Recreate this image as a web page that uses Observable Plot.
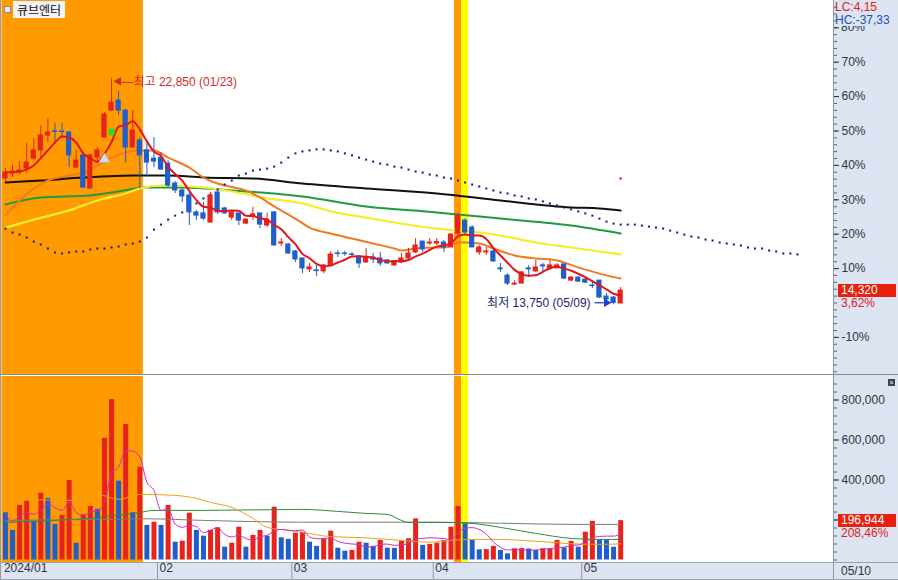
<!DOCTYPE html>
<html lang="ko"><head><meta charset="utf-8">
<script src="https://cdn.jsdelivr.net/npm/d3@7"></script>
<script src="https://cdn.jsdelivr.net/npm/@observablehq/plot@0.6"></script>
<style>
html,body{margin:0;padding:0;background:#fff;overflow:hidden;}
#wrap{position:relative;width:898px;height:580px;overflow:hidden;background:#fff;font-family:"Liberation Sans","Noto Sans CJK KR",sans-serif;font-size:12px;}
.a{position:absolute;white-space:nowrap;}
</style></head><body><div id="wrap"></div>
<script>
// ---------------- data ----------------
const stockName = "큐브엔터";
const dates = ["2024-01-02","2024-01-03","2024-01-04","2024-01-05","2024-01-08","2024-01-09","2024-01-10","2024-01-11","2024-01-12","2024-01-15","2024-01-16","2024-01-17","2024-01-18","2024-01-19","2024-01-22","2024-01-23","2024-01-24","2024-01-25","2024-01-26","2024-01-29","2024-01-30","2024-01-31",
"2024-02-01","2024-02-02","2024-02-05","2024-02-06","2024-02-07","2024-02-08","2024-02-13","2024-02-14","2024-02-15","2024-02-16","2024-02-19","2024-02-20","2024-02-21","2024-02-22","2024-02-23","2024-02-26","2024-02-27","2024-02-28","2024-02-29",
"2024-03-04","2024-03-05","2024-03-06","2024-03-07","2024-03-08","2024-03-11","2024-03-12","2024-03-13","2024-03-14","2024-03-15","2024-03-18","2024-03-19","2024-03-20","2024-03-21","2024-03-22","2024-03-25","2024-03-26","2024-03-27","2024-03-28","2024-03-29",
"2024-04-01","2024-04-02","2024-04-03","2024-04-04","2024-04-05","2024-04-08","2024-04-09","2024-04-11","2024-04-12","2024-04-15","2024-04-16","2024-04-17","2024-04-18","2024-04-19","2024-04-22","2024-04-23","2024-04-24","2024-04-25","2024-04-26","2024-04-29","2024-04-30",
"2024-05-02","2024-05-03","2024-05-07","2024-05-08","2024-05-09","2024-05-10"];
const open = [18820,19020,19060,19220,19620,19950,20550,20710,20710,20670,
19260,19750,18420,19660,20470,21550,21950,21550,20070,20350,
19950,19620,19660,19420,18620,18340,18140,17460,17420,17050,
18260,17620,17250,17420,17010,17290,17420,16930,17460,16210,
16170,15890,15610,15170,15130,15090,15290,15810,15810,15770,
15690,15450,15650,15610,15530,15330,15450,15610,15850,16290,
16210,16210,16250,16050,16610,17130,16850,15850,15850,15890,
15210,14920,14560,14600,15210,15090,15330,15210,15210,15370,
14720,14840,14760,14520,14720,14080,14040,13800];
const high = [19220,19340,19500,20230,20430,20950,21230,21030,21030,20710,
19950,19870,19790,20070,21470,22850,22320,21590,21550,20470,
20350,20470,19870,19540,18700,18420,18260,17540,17860,18260,
18340,17660,17540,17420,17210,17660,17420,17420,17500,16410,
16210,15930,15610,15410,15330,15370,15890,15930,15890,15850,
15690,16010,15810,15850,15570,15530,15810,16010,16410,16290,
16410,16410,16330,16610,17420,17210,16930,16130,16050,16050,
15410,15000,14720,15090,15330,15530,15410,15530,15410,15370,
14880,14880,14800,14720,14720,14200,14080,14440];
const low = [18700,18860,18980,19020,19540,19660,20270,20270,20430,19260,
19220,18420,18400,19420,20450,21510,21350,19460,20030,18420,
18860,19260,19140,18460,18220,17860,16930,17130,17130,17050,
17380,17380,17130,16930,16970,17130,16810,16850,16130,16090,
15770,15450,15000,15050,14880,15000,15290,15650,15690,15650,
15210,15410,15410,15290,15370,15290,15410,15570,15810,15850,
16130,16130,15850,16050,16530,16530,16050,15730,15730,15450,
15050,14520,14520,14600,14840,15050,15050,15130,15210,14760,
14680,14640,14600,14400,14000,13880,13750,13800];
const close = [19060,19100,19140,19460,19950,20550,20670,20690,20690,19750,
19540,18460,19750,19950,21390,21870,21550,20070,20750,19750,
19460,19500,19180,18540,18340,18100,17460,17330,17210,18140,
17460,17420,17460,17130,17170,17380,16970,17170,16130,16250,
15810,15570,15210,15250,15100,15330,15770,15790,15790,15750,
15410,15650,15570,15410,15410,15490,15610,15810,16130,15970,
16250,16270,16050,16570,17330,16650,16050,16050,15890,15490,
15170,14600,14600,15050,15170,15250,15290,15330,15330,14800,
14840,14680,14640,14500,14040,13960,13820,14320];
const volume = [236000,148000,273000,293000,194000,334000,308000,178000,223000,398000,
84000,226000,268000,253000,609000,803000,394000,678000,236000,464000,
173000,189000,173000,273000,89000,94000,234000,148000,119000,148000,
161000,64000,84000,164000,64000,123000,148000,119000,264000,111000,
103000,134000,139000,89000,68000,106000,144000,59000,44000,48000,
89000,84000,68000,98000,59000,58000,94000,106000,206000,73000,
78000,84000,98000,164000,268000,181000,98000,51000,52000,68000,
48000,31000,56000,57000,55000,48000,56000,57000,98000,61000,
93000,64000,139000,193000,101000,100000,63848,196944];
// moving-average lines: [candle index, value]
const ma20Line = [[0,17340],[2,17940],[4,18420],[6,18740],[9,18940],[11,19060],[13,19340],[15,19660],[17,19870],[19,19950],[21,19950],[23,19660],[26,19260],[28,18860],[30,18620],[32,18480],[34,18340],[36,18060],[38,17700],[41,17210],[43,16850],[46,16610],[49,16410],[52,16210],[55,16010],[56,15930],[58,16010],[61,16050],[62,16050],[64,16250],[65,16250],[67,16210],[69,16010],[72,15730],[75,15610],[78,15530],[81,15250],[84,15000],[87,14800]];
const ma60Line = [[0,16850],[4,17170],[9,17540],[13,17940],[17,18220],[19,18420],[22,18540],[28,18460],[32,18300],[37,18020],[42,17820],[46,17500],[51,17250],[56,17010],[61,16810],[64,16730],[66,16690],[70,16530],[75,16250],[80,16050],[84,15890],[87,15770]];
const ma120Line = [[0,17780],[5,18060],[12,18140],[15,18260],[20,18460],[25,18460],[32,18340],[38,18220],[42,18100],[51,17700],[61,17460],[64,17380],[70,17210],[80,16930],[87,16610]];
const ma240Line = [[0,18660],[5,18740],[11,18860],[18,18940],[23,18940],[28,18860],[35,18820],[42,18620],[51,18420],[61,18220],[70,17940],[80,17660],[84,17620],[87,17540]];
// dotted leading span (one value per candle, extends 25 days past the last candle)
const spanLine = [16810,16650,16570,16450,16290,16170,16010,15850,15810,15850,
15890,15890,15970,16010,16010,16050,16090,16170,16210,16290,
16450,16770,16970,17170,17330,17460,17660,17820,18020,18180,
18380,18580,18740,18940,19020,19140,19180,19220,19300,19460,
19660,19830,19910,19950,19990,19990,19950,19910,19830,19750,
19660,19580,19500,19420,19380,19300,19260,19180,19100,19060,
18980,18940,18860,18820,18740,18660,18580,18500,18420,18340,
18260,18220,18140,18100,18020,17980,17900,17820,17740,17660,
17580,17500,17420,17330,17210,17090,17010,16970,16970,16970,
16930,16890,16850,16810,16730,16650,16570,16490,16450,16370,
16330,16250,16210,16170,16130,16050,16010,16010,15930,15890,
15810,15810,15770];
const volMa20Line = [[4,302000],[9,298000],[13,328000],[16,303000],[19,328000],[24,323000],[27,308000],[29,288000],[32,263000],[35,208000],[37,163000],[40,148000],[42,138000],[46,117000],[51,111000],[56,98000],[60,89000],[63,98000],[66,103000],[70,103000],[73,98000],[77,89000],[80,81000],[84,78000],[87,81000]];
const volMa60Line = [[0,188000],[13,213000],[19,238000],[21,248000],[28,248000],[42,253000],[47,243000],[51,233000],[54,228000],[56,198000],[57,188000],[62,188000],[66,183000],[70,163000],[75,133000],[80,108000],[84,103000],[87,103000]];
const volMa120Line = [[0,198000],[14,203000],[20,206000],[28,198000],[42,189000],[61,189000],[70,184000],[80,178000],[87,178000]];
// highlighted signal days [first index, last index]
const orangeDays = [[0,19],[64,64]];
const yellowDays = [[65,65]];
const greenSignal = [{i:15, price:20700}];
const greySignal = [{i:14, price:19600}];
const redSignal = [{i:87, price:18820}];
const pctTicks = [70,60,50,40,30,20,10,-10];
const topPctTick = 80;
const volTicks = [200000,400000,600000,800000];

// ---------------- derived ----------------
const UP = "#e8231b", DOWN = "#1f5fcb";
const fmt = d3.format(",");
const comma2 = v => v.toFixed(2).replace(".", ",");
const mmdd = s => s.slice(5).replace("-", "/");
const candles = dates.map((date, i) => ({i, date, open: open[i], high: high[i], low: low[i], close: close[i], volume: volume[i]}));
const last = candles[candles.length - 1];
const prev = candles[candles.length - 2];
const base = prev.close;
const pct = v => (v / base - 1) * 100;
const hiC = candles.reduce((a, b) => b.high > a.high ? b : a);
const loC = candles.reduce((a, b) => b.low < a.low ? b : a);
const candleColor = d => d.close >= d.open ? UP : DOWN;
const volColor = d => d.i > 0 && d.volume > candles[d.i - 1].volume ? UP : DOWN;
const monthMarks = candles.filter((d, i) => i === 0 || d.date.slice(5,7) !== candles[i-1].date.slice(5,7))
  .map(d => ({x: d.i - 0.5, label: d.i === 0 ? d.date.slice(0,7).replace("-", "/") : d.date.slice(5,7)}));

const xDomain = [-0.42, 117.1];
const font = "Liberation Sans, Noto Sans CJK KR, sans-serif";
const bandMarks = () => [
  Plot.rect(orangeDays, {x1: d => d[0] - 0.5, x2: d => d[1] + 0.5, fill: "#ff9a00"}),
  Plot.rect(yellowDays, {x1: d => d[0] - 0.5, x2: d => d[1] + 0.5, fill: "#ffff00"})
];

const priceChart = Plot.plot({
  width: 898, height: 375, marginLeft: 2, marginRight: 65, marginTop: 0, marginBottom: 1,
  style: {background: "transparent", fontFamily: font, fontSize: "12px", overflow: "visible"},
  x: {domain: xDomain, axis: null},
  y: {domain: [-20.785, 87.936], label: null},
  marks: [
    ...bandMarks(),
    Plot.line(ma240Line, {x: d => d[0], y: d => pct(d[1]), stroke: "#111", strokeWidth: 2, curve: "monotone-x"}),
    Plot.line(ma120Line, {x: d => d[0], y: d => pct(d[1]), stroke: "#1f9a3e", strokeWidth: 2, curve: "monotone-x"}),
    Plot.line(ma60Line, {x: d => d[0], y: d => pct(d[1]), stroke: "#f4ee2c", strokeWidth: 2.2, curve: "monotone-x"}),
    Plot.line(ma20Line, {x: d => d[0], y: d => pct(d[1]), stroke: "#f07a22", strokeWidth: 2, curve: "monotone-x"}),
    Plot.dot(spanLine, {x: (d, i) => i, y: d => pct(d), symbol: "square", r: 1.15, fill: "#1c1c86"}),
    Plot.ruleX(candles, {x: "i", y1: d => pct(d.low), y2: d => pct(d.high), stroke: candleColor, strokeWidth: 1}),
    Plot.rect(candles, {x1: d => d.i - 0.37, x2: d => d.i + 0.37, y1: d => pct(d.open), y2: d => pct(d.close), fill: candleColor, insetTop: -0.5, insetBottom: -0.5}),
    Plot.lineY(candles, Plot.windowY({k: 5, anchor: "end"}, {x: "i", y: d => pct(d.close), stroke: "#e3161c", strokeWidth: 2, curve: "monotone-x"})),
    Plot.dot(greenSignal, {x: "i", y: d => pct(d.price), r: 3.5, fill: "#20e020"}),
    Plot.dot(greySignal, {x: "i", y: d => pct(d.price), symbol: "triangle", r: 4, fill: "#dcdce4", stroke: "#b4b4c0", strokeWidth: 0.8}),
    Plot.dot(redSignal, {x: "i", y: d => pct(d.price), r: 1.3, fill: "#b83838"}),
    // high annotation: arrowhead + label
    Plot.dot([hiC], {x: "i", y: d => pct(d.high), symbol: "triangle", rotate: -90, r: 3.2, fill: "#d42a26", dx: 7, dy: 3}),
    Plot.text([hiC], {x: "i", y: d => pct(d.high), text: d => "—최고 " + fmt(d.high) + " (" + mmdd(d.date) + ")", dx: 10, dy: 4, textAnchor: "start", fill: "#d42a26", fontSize: 12}),
    // low annotation: label + arrow
    Plot.text([loC], {x: "i", y: d => pct(d.low), text: d => "최저 " + fmt(d.low) + " (" + mmdd(d.date) + ")", dx: -23, dy: -2, textAnchor: "end", fill: "#23246e", fontSize: 12}),
    Plot.ruleY([loC], {y: d => pct(d.low), x1: d => d.i - 2.6, x2: d => d.i - 1.3, stroke: "#1f3fd0", strokeWidth: 1.3, dy: -2}),
    Plot.dot([loC], {x: d => d.i - 1.0, y: d => pct(d.low), symbol: "triangle", rotate: 90, r: 3.2, fill: "#1f3fd0", dy: -2}),
    Plot.axisY({anchor: "right", ticks: d3.range(-20, 88, 2), tickSize: 3, tickFormat: () => "", color: "#55606e", label: null}),
    Plot.axisY({anchor: "right", ticks: [topPctTick], tickSize: 5, tickFormat: () => "", color: "#30354a", label: null}),
    Plot.axisY({anchor: "right", ticks: pctTicks, tickSize: 5, tickPadding: 3, tickFormat: d => d + "%", color: "#30354a", fontSize: 12, label: null})
  ]
});

const volChart = Plot.plot({
  width: 898, height: 205, marginLeft: 2, marginRight: 65, marginTop: 1, marginBottom: 18,
  style: {background: "transparent", fontFamily: font, fontSize: "12px", overflow: "visible"},
  x: {domain: xDomain, label: null},
  y: {domain: [-12500, 917500], label: null},
  marks: [
    ...bandMarks(),
    Plot.ruleX(candles, {x: "i", y1: 0, y2: "volume", stroke: volColor, strokeWidth: 5}),
    Plot.line(volMa120Line, {x: d => d[0], y: d => d[1], stroke: "#7c7c7c", strokeWidth: 1, curve: "monotone-x"}),
    Plot.line(volMa60Line, {x: d => d[0], y: d => d[1], stroke: "#2e8b3e", strokeWidth: 1, curve: "monotone-x"}),
    Plot.line(volMa20Line, {x: d => d[0], y: d => d[1], stroke: "#e8a318", strokeWidth: 1, curve: "monotone-x"}),
    Plot.lineY(candles, Plot.windowY({k: 5, anchor: "end"}, {x: "i", y: "volume", stroke: "#d02ac8", strokeWidth: 1, curve: "monotone-x"})),
    Plot.axisY({anchor: "right", ticks: d3.range(0, 900001, 40000), tickSize: 3, tickFormat: () => "", color: "#55606e", label: null}),
    Plot.axisY({anchor: "right", ticks: volTicks, tickSize: 5, tickPadding: 3, tickFormat: d => d >= 400000 ? fmt(d) : "", color: "#30354a", fontSize: 12, label: null}),
    Plot.axisX({ticks: monthMarks.slice(1).map(d => d.x), tickSize: 18, tickFormat: () => "", color: "#8d99ab", label: null}),
    Plot.text(monthMarks, {x: "x", text: "label", frameAnchor: "bottom", dy: 9, dx: 2, textAnchor: "start", fill: "#333340", fontSize: 12})
  ]
});

// ---------------- page assembly ----------------
const wrap = document.getElementById("wrap");
function box(css, html) {
  const d = document.createElement("div");
  d.className = "a"; d.style.cssText = css;
  if (html != null) d.textContent = html;
  wrap.appendChild(d); return d;
}
box("left:833px;top:0;width:65px;height:562px;background:#dbe4f0;");
box("left:0;top:562px;width:898px;height:18px;background:#dbe4f0;");
const pH = box("left:0;top:0;"); pH.appendChild(priceChart);
const vH = box("left:0;top:375px;"); vH.appendChild(volChart);
box("left:833px;top:0;width:1px;height:580px;background:#8f98a6;");
box("left:0;top:374px;width:898px;height:1px;background:#8a8a8a;");
box("left:0;top:562px;width:898px;height:1px;background:#9aa3b0;");
box("left:0;top:579px;width:898px;height:1px;background:#9aa3b0;");
box("left:0;top:0;width:1px;height:580px;background:#9a9a9a;");
// stock name
box("left:4px;top:6px;width:5px;height:5px;border:1px solid #8a8a98;background:#e8e8f0;");
box("left:13px;top:1px;height:17px;padding:0 4px;background:#f2f2f7;font-family:'Noto Sans CJK KR';font-size:12px;line-height:17px;color:#111;", stockName);
// top tick label, mostly hidden under the LC/HC block as in the source
const y80 = priceChart.scale("y").apply(topPctTick);
const clip80 = box(`left:841px;top:26px;width:40px;height:${Math.max(2, y80 + 6 - 26)}px;overflow:hidden;`);
const s80 = document.createElement("div");
s80.style.cssText = `position:absolute;left:0;top:${y80 - 6 - 26}px;line-height:12px;color:#30354a;`;
s80.textContent = topPctTick + "%"; clip80.appendChild(s80);
box("left:835px;top:1px;height:12px;color:#e0201c;line-height:12px;font-size:12px;", "LC:" + comma2((last.close / loC.low - 1) * 100));
box("left:835px;top:14px;height:12px;color:#2050c0;line-height:12px;font-size:12px;", "HC:" + comma2((last.close / hiC.high - 1) * 100));
// current price label
const yP = priceChart.scale("y").apply(pct(last.close));
box(`left:838px;top:${yP - 6.5}px;width:55px;height:13px;padding-left:3px;background:#e8200c;color:#fff;line-height:13px;`, fmt(last.close));
box(`left:841px;top:${yP + 7}px;color:#e02020;line-height:12px;`, comma2(pct(last.close)) + "%");
// current volume label
const yV = volChart.scale("y").apply(last.volume) + 375;
box(`left:838px;top:${yV - 6.5}px;width:55px;height:13px;padding-left:3px;background:#e8200c;color:#fff;line-height:13px;`, fmt(last.volume));
box(`left:841px;top:${yV + 7}px;color:#e02020;line-height:12px;`, comma2((last.volume / prev.volume - 1) * 100) + "%");
// close button and last date
box("left:888px;top:379px;width:7px;height:7px;background:#444;color:#fff;font-size:7px;line-height:7px;text-align:center;", "×");
box("left:841px;top:564px;color:#333340;line-height:15px;", mmdd(last.date));
</script></body></html>
